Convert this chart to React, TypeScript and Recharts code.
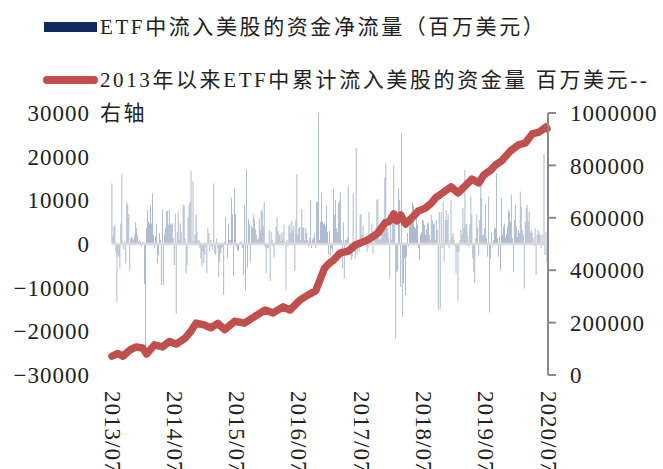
import { ComposedChart, Bar, Line, XAxis, YAxis, ReferenceLine } from 'recharts'

const FONT = '"Liberation Serif", "Times New Roman", "Noto Sans CJK SC", serif'

// weekly net flow into US equity ETFs (百万美元), 2013/07 - 2020/07
const weeklyFlow = [
  13900, 1700, 4000, 4400, -1800, -13300, -2500, -2900, -5600, 4700, 15900, 500, -1400, 500, -4400, 9700, 9000, 6800,
  -6000, 1300, 1700, 1300, 900, 2100, 5000, 3600, 2100, 500, 900, 500, -600, 500, -200, -9200, -23600, 3600, 7800,
  5100, 4700, 8800, 4700, 11600, 2100, -1000, 1700, 4500, -4400, -2500, 2500, 900, -9400, 7800, -9400, 2100, 3600,
  7400, 7600, 4400, 7800, 4700, 4400, 4700, 1300, -4800, 7000, -15900, 2800, 7400, 900, 4700, 2800, 200, 9000, 8800,
  1300, -6700, -4800, 6100, 9000, 9700, 16800, 500, 14300, 500, 2100, 6800, 2800, 500, 900, -1000, -3300, -5200,
  -1800, -4400, -2500, -600, -6700, 3600, 2500, -1800, 900, -600, -1400, 13900, -2100, -2500, 1300, -1000,
  -7500, -4100, -2100, -1000, -600, -11700, 500, 6100, -200, -3300, 4700, 900, 900, 10600, 6800, -7500, 12900, 6800,
  -600, -1400, -1800, 200, 500, 500, -1000, -7100, 8800, -10600, 17000, -5400, 5700, 4400, -4200, 4200, 3800, 6800,
  5700, 3400, 2100, 900, 1300, 5900, 3200, 7800, 7600, 4000, 9700, -600, -6700, -1000, -1000, 3200, -8500, 2800, 900,
  -600, -3100, 500, 4000, 6100, 3000, 2100, 2200, 700, 2700, 1100, 4400, 400, -10600, 900, -600, 4200, 4500, 2500,
  5300, 3200, 4200, -6200, 5500, 16000, 2100, 3600, 4000, 900, 8000, 3800, 3800, 900, 3600, 2500, 900, -600, 1500,
  10100, -1000, 1100, 1500, 2500, -1000, 9700, 9600, 30000, 900, 5100, 11600, 5100, 4500, 4700, 4000, 8800, 2800, -2500,
  3000, -2500, -1000, -1800, 12600, 6700, 10100, 3600, 2800, 9300, 9900, 11900, 900, -5600, 5000, -7900, 900, 900,
  1500, 13200, -200, -2100, -3700, -2900, 11600, -1800, -3300, 22000, -2500, 500, -1800, 6700, 6800, 2100, 4200, 1300,
  500, -200, -1800, -1000, 7300, 2500, 500, 4700, -2300, 500, 2500, 3600, 10100, 10300, 1700, 900, 1300, 4700, 4400,
  5900, 15100, 18500, 5900, 3600, 1300, -7900, 7400, 900, 4700, 18000, 4400, -21700, -6400, -6000, 12800, 10100,
  -9800, 25400, -16700, -9000, -3300, -11700, -2900, 2500, -600, 4000, 4700, 7000, 9600, 8800, 4000, 3600, 6700, 4400,
  -1000, -3700, 2100, 2700, 5500, 5300, 4400, 2200, 3400, 4700, 5000, 2100, 900, 6700, 5500, 4700, 4700, 900, 5500,
  3200, -15200, 7300,
  -14800, 7300, -1000, 9600, -4100, 5500, 7800, 5500, 6800, -1000, 900, 10100, 1700, 2500, 900, -600, -6700, -1800,
  -13100, -1800, 900, 3200, 2100, 8300, 3600, 17000, 4700, 4400, 1700, -600, 4400, 10900, 6700, -3300, -6500, -9000,
  1300, 6800, 3800, -2500, 5500, 14700, 10500, 1900, 2200, 3600, 9300, 1300, -2900, 10900, -15700, -3300, 2500, -600,
  900, 3600, 3600, 16200, 1300, -2900, 1700, -6000, 10500, 2100, 4000, 4700, 1500, 2200, 4000, 7800, 7400, 5100, 11300,
  1300, -6400, 5500, 9000, 4000, 1700, 3200, 2500, 12000, 8600, 3200, 2100, -10200, 5100, 8200, 9000, 5100, 7400, 2500,
  3200, 2500, 1300, -600, 3600, -7100, 2100, 3200, 2500, 2100, -1000, 2100, 500, 20600, -2500, 2800, -4100,
]

// cumulative inflow since 2013 (百万美元), read at these weeks
const cumWeek = [
  0, 6, 11, 18, 24, 31, 35, 43, 51, 58, 65, 74, 80, 85, 94, 100, 107, 114, 124, 134, 145, 155, 163, 173, 180, 190,
  198, 206, 210, 215, 220, 223, 231, 239, 246, 256, 262, 269, 276, 281, 285, 288, 292, 297, 303, 310, 317, 323, 328,
  330, 337, 343, 350, 357, 364, 371, 376, 383, 388, 394, 403, 411, 418, 425, 432, 439, 440,
]
const cumTotal = [
  72000, 82000, 72000, 95000, 107000, 103000, 80000, 115000, 107000, 128000, 118000, 141000, 168000, 198000, 190000,
  180000, 197000, 173000, 205000, 198000, 225000, 248000, 237000, 260000, 248000, 286000, 305000, 321000, 359000,
  408000, 427000, 435000, 466000, 473000, 496000, 511000, 523000, 542000, 580000, 588000, 615000, 588000, 611000,
  576000, 599000, 626000, 637000, 656000, 679000, 683000, 702000, 718000, 695000, 721000, 748000, 733000, 763000,
  782000, 802000, 817000, 855000, 878000, 885000, 920000, 927000, 947000, 940000,
]

const yearTicks = [0, 63, 126, 189, 252, 315, 378, 441]
const yearLabels = ['2013/07', '2014/07', '2015/07', '2016/07', '2017/07', '2018/07', '2019/07', '2020/07']
const flowTicks = [-30000, -20000, -10000, 0, 10000, 20000, 30000]
const cumTicks = [0, 200000, 400000, 600000, 800000, 1000000]

const data: { i: number; flow: number; cum: number | null }[] = weeklyFlow.map((flow, i) => ({ i, flow, cum: null }))
cumWeek.forEach((w, k) => {
  data[w].cum = cumTotal[k]
})

function YearTick({ x, y, payload }: any) {
  const label = yearLabels[yearTicks.indexOf(payload.value)]
  return (
    <text
      x={x}
      y={y}
      transform={`rotate(90 ${x} ${y})`}
      textAnchor="start"
      dominantBaseline="central"
      fontSize={23}
      letterSpacing={1}
      fontFamily={FONT}
      fill="#222"
    >
      {label}
    </text>
  )
}

const tickStyle = { fontSize: 23, fill: '#222', fontFamily: FONT, letterSpacing: 1 }
const legendText = {
  position: 'absolute' as const,
  left: 100,
  fontSize: 21,
  lineHeight: '33px',
  color: '#222',
  letterSpacing: 2.6,
  whiteSpace: 'nowrap' as const,
}

export default function App() {
  return (
    <div style={{ position: 'absolute', left: 0, top: 0, width: 663, height: 469, background: '#fff', fontFamily: FONT }}>
      <div style={{ position: 'absolute', left: 44, top: 22, width: 53, height: 10, background: '#0f2a5f' }} />
      <div style={{ ...legendText, top: 11 }}>ETF中流入美股的资金净流量（百万美元）</div>
      <div style={{ position: 'absolute', left: 43, top: 76, width: 55, height: 8, borderRadius: 4, background: '#c0504d' }} />
      <div style={{ ...legendText, top: 64 }}>
        2013年以来ETF中累计流入美股的资金量 百万美元--
        <br />
        右轴
      </div>
      <ComposedChart width={663} height={469} data={data} margin={{ top: 113, right: 0, bottom: 0, left: 0 }}>
        <XAxis
          dataKey="i"
          type="number"
          domain={[0, 441]}
          ticks={yearTicks}
          interval={0}
          height={94}
          axisLine={false}
          tickLine={false}
          tickSize={0}
          tickMargin={16}
          tick={<YearTick />}
        />
        <YAxis
          yAxisId="flow"
          domain={[-30000, 30000]}
          ticks={flowTicks}
          width={112}
          axisLine={false}
          tickLine={false}
          tickSize={0}
          tickMargin={22}
          tick={tickStyle}
          tickFormatter={(v: number) => String(v).replace('-', '−')}
        />
        <YAxis
          yAxisId="cum"
          orientation="right"
          domain={[0, 1000000]}
          ticks={cumTicks}
          width={115}
          axisLine={{ stroke: '#8a8a8a', strokeWidth: 2 }}
          tickLine={{ stroke: '#8a8a8a', strokeWidth: 2 }}
          tickSize={8}
          tickMargin={14}
          tick={tickStyle}
        />
        <Bar yAxisId="flow" dataKey="flow" fill="#a5b2ca" barSize={1} isAnimationActive={false} />
        <ReferenceLine yAxisId="flow" y={0} stroke="#d9d9d9" strokeWidth={2.5} />
        <Line
          yAxisId="cum"
          dataKey="cum"
          type="linear"
          stroke="#c0504d"
          strokeWidth={7.5}
          strokeLinejoin="round"
          strokeLinecap="round"
          dot={false}
          connectNulls
          isAnimationActive={false}
        />
      </ComposedChart>
    </div>
  )
}
